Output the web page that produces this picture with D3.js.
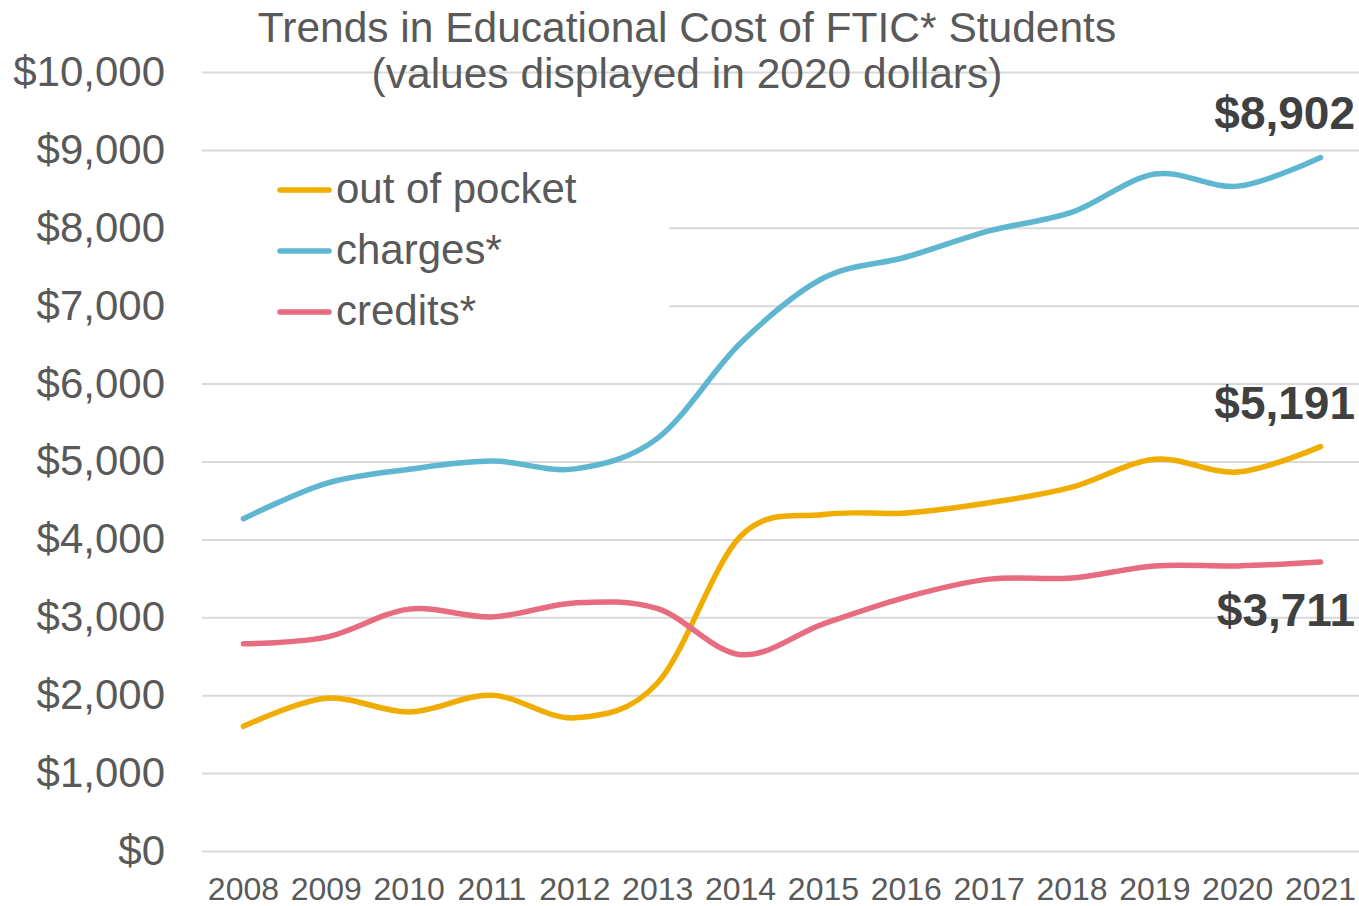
<!DOCTYPE html>
<html>
<head>
<meta charset="utf-8">
<script src="https://cdn.jsdelivr.net/npm/d3@7/dist/d3.min.js"></script>
<style>
  html, body { margin: 0; padding: 0; background: #fff; }
  svg { display: block; font-family: "Liberation Sans", Arial, sans-serif; }
</style>
</head>
<body>
<svg id="chart" width="1359" height="906"></svg>
<script>
// Years on the category axis
const years = ["2008","2009","2010","2011","2012","2013","2014","2015","2016","2017","2018","2019","2020","2021"];

// Cost per student, in 2020 dollars
const outOfPocket = [1600, 1960, 1785, 2000, 1710, 2160, 4040, 4320, 4340, 4470, 4670, 5030, 4865, 5191];
const charges     = [4265, 4720, 4900, 5005, 4905, 5300, 6520, 7355, 7625, 7960, 8200, 8690, 8535, 8902];
const credits     = [2660, 2745, 3105, 3005, 3185, 3110, 2520, 2915, 3260, 3490, 3505, 3660, 3660, 3711];

// Value-axis ticks
const yTicks = [0, 1000, 2000, 3000, 4000, 5000, 6000, 7000, 8000, 9000, 10000];

const seriesNames = ["out of pocket", "charges*", "credits*"];
const seriesColors = ["#F0AD00", "#5EB6D0", "#E86C80"];
const seriesValues = [outOfPocket, charges, credits];

const titleLines = ["Trends in Educational Cost of FTIC* Students", "(values displayed in 2020 dollars)"];

const svg = d3.select("#chart");
const plotLeft = 202, plotRight = 1362, plotTop = 72, plotBottom = 851;

const x = d3.scaleBand().domain(years).range([plotLeft, plotRight]).padding(0);
const y = d3.scaleLinear().domain([0, 10000]).range([plotBottom, plotTop]);
const cx = d => x(d) + x.bandwidth() / 2;

// Horizontal gridlines
const grid = svg.append("g")
  .attr("transform", `translate(${plotLeft},0)`)
  .call(d3.axisLeft(y).tickValues(yTicks).tickSize(-(plotRight - plotLeft)).tickFormat(""));
grid.select(".domain").remove();
grid.selectAll("line").attr("stroke", "#D9D9D9").attr("stroke-width", 2);

// Value axis labels
const yAxis = svg.append("g")
  .attr("transform", `translate(${plotLeft},0)`)
  .call(d3.axisLeft(y).tickValues(yTicks).tickSize(0).tickPadding(37).tickFormat(d3.format("$,")));
yAxis.select(".domain").remove();
yAxis.selectAll("text").attr("fill", "#595959").style("font-size", "42px");

// Category axis labels
const xAxis = svg.append("g")
  .attr("transform", `translate(0,${plotBottom})`)
  .call(d3.axisBottom(x).tickSize(0).tickPadding(26));
xAxis.select(".domain").remove();
xAxis.selectAll("text").attr("fill", "#595959").style("font-size", "32px");

// Legend box sits over the gridlines
svg.append("rect")
  .attr("x", plotLeft).attr("y", 160).attr("width", 669 - plotLeft).attr("height", 180)
  .attr("fill", "#fff");

// Smoothed series lines
const line = d3.line()
  .x((d, i) => cx(years[i]))
  .y(d => y(d))
  .curve(d3.curveCardinal.tension(0));

svg.append("g").selectAll("path")
  .data(seriesValues)
  .join("path")
  .attr("d", d => line(d))
  .attr("fill", "none")
  .attr("stroke", (d, i) => seriesColors[i])
  .attr("stroke-width", 5.5)
  .attr("stroke-linecap", "round")
  .attr("stroke-linejoin", "round");

// Final-year value labels
const fmt = d3.format("$,");
const last = years.length - 1;
const labelOffsets = [-28, -29, 64];
svg.append("g").selectAll("text")
  .data(seriesValues)
  .join("text")
  .attr("x", 1355)
  .attr("y", (d, i) => y(d[last]) + labelOffsets[i])
  .attr("text-anchor", "end")
  .attr("fill", "#404040")
  .style("font-size", "46px")
  .style("font-weight", "bold")
  .text(d => fmt(d[last]));

// Legend
const legend = svg.append("g");
const legendY = [190, 251, 312];
seriesNames.forEach((name, i) => {
  legend.append("line")
    .attr("x1", 280).attr("x2", 329)
    .attr("y1", legendY[i]).attr("y2", legendY[i])
    .attr("stroke", seriesColors[i]).attr("stroke-width", 5.5)
    .attr("stroke-linecap", "round");
  legend.append("text")
    .attr("x", 336).attr("y", legendY[i] + 13)
    .attr("fill", "#595959")
    .style("font-size", "42px")
    .text(name);
});

// Title
svg.append("g").selectAll("text")
  .data(titleLines)
  .join("text")
  .attr("x", 687)
  .attr("y", (d, i) => 42 + i * 46)
  .attr("text-anchor", "middle")
  .attr("fill", "#595959")
  .style("font-size", "42.5px")
  .text(d => d);
</script>
</body>
</html>
